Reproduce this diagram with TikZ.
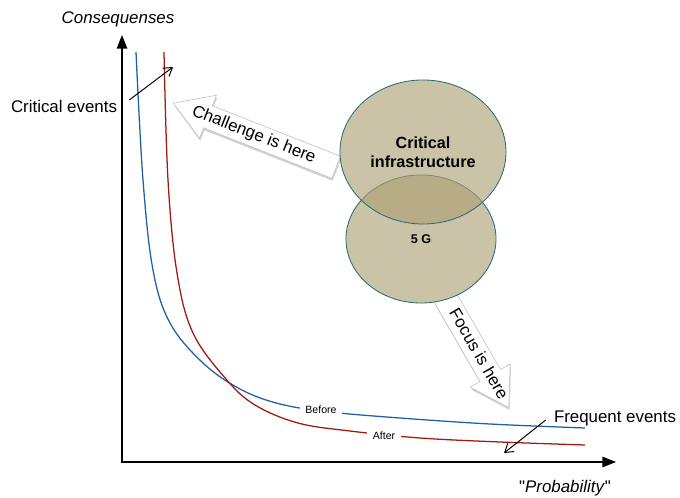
\documentclass[tikz,border=0pt]{standalone}
\usepackage{fontspec}
\setmainfont{Liberation Sans}[Ligatures=TeXOff]
\usetikzlibrary{arrows.meta,shapes.arrows,shapes.geometric,shadows,positioning}
\definecolor{beforeblue}{RGB}{30,95,165}
\definecolor{afterred}{RGB}{160,25,15}
\definecolor{zonefill}{RGB}{174,160,117}
\definecolor{zoneline}{RGB}{40,110,110}
\tikzset{
  axis/.style     = {line width=1pt, {Triangle[length=3.4mm,width=2.6mm]}-{Triangle[length=3.4mm,width=2.6mm]}},
  pointer/.style  = {line width=0.7pt, -{Straight Barb[length=2mm,width=2.6mm]}},
  curve/.style    = {line width=0.9pt},
  lbl/.style      = {font=\fontsize{12}{14}\selectfont, inner sep=0pt},
  tag/.style      = {font=\fontsize{7.5}{9}\selectfont, fill=white, inner sep=4pt},
  bigarrow/.style = {single arrow, draw=black!25, fill=white, font=\fontsize{12}{14}\selectfont,
                     text height=9pt, text depth=2.5pt, inner xsep=0pt, inner ysep=2.5pt,
                     single arrow head extend=8pt, single arrow tip angle=64,
                     drop shadow={opacity=0.35, shadow xshift=0.6pt, shadow yshift=-1.8pt}},
  zone/.style     = {ellipse, draw=zoneline, line width=0.6pt, fill=zonefill, fill opacity=0.63,
                     text opacity=1, align=center}
}

\begin{document}
\begin{tikzpicture}[x=0.025cm, y=-0.025cm]
\useasboundingbox (0,0) rectangle (680,498);

% axes
\coordinate (origin) at (122,462);
\coordinate (ytop) at (122,35);
\coordinate (xend) at (616,462);
\draw[axis] (ytop) -- (origin) -- (xend);
\node[lbl] (ylab) at (118,19) {\itshape Consequenses};
\node[lbl] (xlab) at (565,488) {"\textit{Probability}"};

% before / after curves
\draw[curve, beforeblue] plot[smooth, tension=0.6] coordinates {(136,52) (143,180) (153,270) (170,323) (203,363) (240,389) (280,404) (330,412) (400,418) (490,424) (585,428)};
\draw[curve, afterred] plot[smooth, tension=0.6] coordinates {(164,52) (168,180) (177,273) (193,333) (226,379) (255,405) (298,423) (350,431) (420,438) (500,442) (585,445)};
\node[tag] (before) at (321,410) {Before};
\node[tag] (after) at (384,436) {After};

% event notes
\node[lbl] (crit) at (64,106) {Critical events};
\coordinate (critend) at (173,67);
\draw[pointer] ([shift={(12,-6)}]crit.east) -- (critend);
\node[lbl] (freq) at (615,418) {Frequent events};
\coordinate (freqend) at (504,453);
\draw[pointer] ([shift={(-8,2)}]freq.west) -- (freqend);

% block arrows
\node[bigarrow, rotate=-21.5, shape border rotate=180, anchor=tip] (challenge) at (173,103) {\kern1pt Challenge is here\kern16pt};
\node[bigarrow, rotate=-60, anchor=tip] (focus) at (509,408) {\kern25.5pt Focus is here\kern-6pt};

% zones
\fill[white] (423,152) ellipse [x radius=2.075cm, y radius=1.8cm];
\fill[white] (421,239) ellipse [x radius=1.875cm, y radius=1.6cm];
\node[zone, minimum width=3.75cm, minimum height=3.2cm, font=\bfseries\fontsize{9}{11}\selectfont] (fiveg) at (421,239) {5 G};
\node[zone, minimum width=4.15cm, minimum height=3.6cm, font=\bfseries\fontsize{11.5}{13.5}\selectfont] (infra) at (423,152) {Critical\\infrastructure};
\end{tikzpicture}
\end{document}
